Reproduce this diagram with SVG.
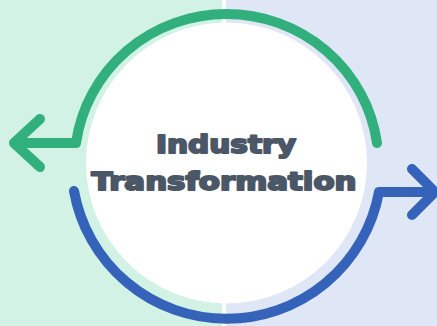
<svg xmlns="http://www.w3.org/2000/svg" width="437" height="326" viewBox="0 0 437 326">
<style>
.bgL{fill:#d1f2e4}
.bgR{fill:#dfe6f5}
.conn{fill:none;stroke-width:10;stroke-linecap:round;stroke-linejoin:round}
.green{stroke:#31b07d}
.blue{stroke:#3563b9}
.label{font-family:"DejaVu Sans","Liberation Sans",sans-serif;font-weight:bold;font-size:25px;fill:#4b5766;stroke:#4b5766;stroke-width:2;stroke-linejoin:round;text-anchor:middle}
</style>
<g id="background">
<rect class="bgL" x="0" y="0" width="222" height="326"/>
<rect class="bgR" x="226" y="0" width="211" height="326"/>
<rect x="222" y="0" width="4" height="326" fill="#ffffff"/>
</g>
<g id="connectors">
<path class="conn green" d="M377,143 A152 150 0 0 0 76,143 L14,143 M40,119 L14,143 L40,167"/>
<path class="conn blue" d="M74,191 A155 155 0 0 0 379,192 L435,192 M412,169 L435,192 L412,215"/>
</g>
<g id="center-node">
<circle cx="226.5" cy="163" r="140.5" fill="#ffffff"/>
<text class="label" x="226" y="153" textLength="140" lengthAdjust="spacingAndGlyphs">Industry</text>
<text class="label" x="224" y="190" textLength="265" lengthAdjust="spacingAndGlyphs">Transformation</text>
</g>
</svg>
